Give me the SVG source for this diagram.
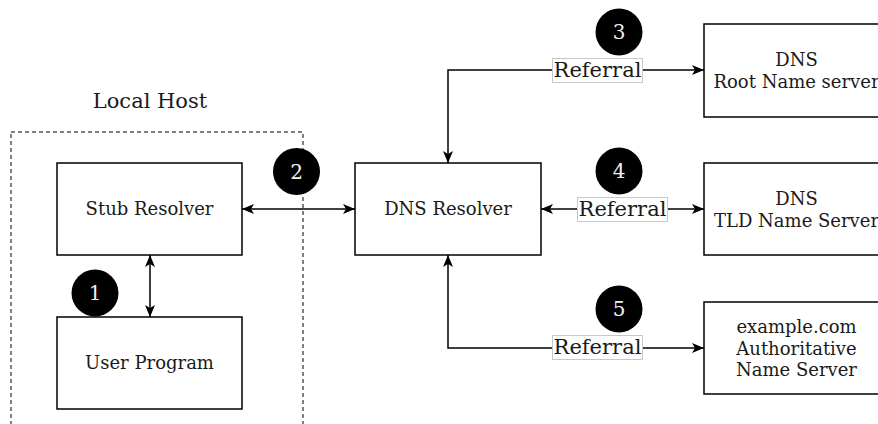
<svg xmlns="http://www.w3.org/2000/svg" width="878" height="424" viewBox="0 0 878 424">
  <defs>
    <style>
      .box { fill: #ffffff; stroke: #000000; stroke-width: 1.5; }
      .txt { font-family: "DejaVu Serif", "Liberation Serif", serif; font-size: 18px; fill: #1a1a1a; text-anchor: middle; }
      .big { font-size: 21px; }
      .num { font-family: "DejaVu Serif", "Liberation Serif", serif; font-size: 20px; fill: #f0f0f0; text-anchor: middle; }
      .badge { fill: #000000; }
      .wire { fill: none; stroke: #000000; stroke-width: 1.5; }
      .tag { fill: #ffffff; stroke: #c8c8c8; stroke-width: 1; }
    </style>
    <marker id="arrow" viewBox="0 0 12 10" refX="12" refY="5" markerWidth="12" markerHeight="10" markerUnits="userSpaceOnUse" orient="auto-start-reverse">
      <path d="M0,0 L12,5 L0,10 L3,5 Z" fill="#000000"/>
    </marker>
  </defs>

  <!-- local host boundary -->
  <g id="local-host">
    <rect x="11" y="132" width="292" height="320" fill="none" stroke="#000000" stroke-width="1" stroke-dasharray="4 3"/>
    <text class="txt big" x="150" y="108">Local Host</text>
  </g>

  <!-- connectors -->
  <g id="connectors">
    <line class="wire" x1="150" y1="255" x2="150" y2="317" marker-start="url(#arrow)" marker-end="url(#arrow)"/>
    <line class="wire" x1="242" y1="209" x2="355" y2="209" marker-start="url(#arrow)" marker-end="url(#arrow)"/>
    <path class="wire" d="M600,70 H448 V163" marker-end="url(#arrow)"/>
    <line class="wire" x1="541" y1="209" x2="704" y2="209" marker-start="url(#arrow)" marker-end="url(#arrow)"/>
    <path class="wire" d="M600,348 H448 V255" marker-end="url(#arrow)"/>
    <path class="wire" d="M600,70 H704" marker-end="url(#arrow)"/>
    <path class="wire" d="M600,348 H704" marker-end="url(#arrow)"/>
    <g id="label-3">
      <rect class="tag" x="552.5" y="58.5" width="90" height="24"/>
      <text class="txt big" x="597.5" y="77">Referral</text>
    </g>
    <g id="label-4">
      <rect class="tag" x="577.5" y="197.5" width="90" height="24"/>
      <text class="txt big" x="622.5" y="216">Referral</text>
    </g>
    <g id="label-5">
      <rect class="tag" x="552.5" y="335.5" width="90" height="24"/>
      <text class="txt big" x="597.5" y="354">Referral</text>
    </g>
  </g>

  <g id="stub-resolver">
    <rect class="box" x="57" y="163" width="185" height="92"/>
    <text class="txt" x="149.5" y="215">Stub Resolver</text>
  </g>
  <g id="user-program">
    <rect class="box" x="57" y="317" width="185" height="92"/>
    <text class="txt" x="149.5" y="369">User Program</text>
  </g>
  <g id="dns-resolver">
    <rect class="box" x="355" y="163" width="186" height="92"/>
    <text class="txt" x="448" y="215">DNS Resolver</text>
  </g>
  <g id="root-server">
    <rect class="box" x="704" y="24" width="185" height="93"/>
    <text class="txt" x="796.5" y="66">DNS</text>
    <text class="txt" x="796.5" y="88">Root Name server</text>
  </g>
  <g id="tld-server">
    <rect class="box" x="704" y="163" width="185" height="92"/>
    <text class="txt" x="796.5" y="205">DNS</text>
    <text class="txt" x="796.5" y="227">TLD Name Server</text>
  </g>
  <g id="auth-server">
    <rect class="box" x="704" y="302" width="185" height="92"/>
    <text class="txt" x="796.5" y="333">example.com</text>
    <text class="txt" x="796.5" y="355">Authoritative</text>
    <text class="txt" x="796.5" y="376">Name Server</text>
  </g>

  <!-- step badges -->
  <g id="step-1"><circle class="badge" cx="95" cy="293" r="23.5"/><text class="num" x="95" y="300">1</text></g>
  <g id="step-2"><circle class="badge" cx="296.5" cy="171.5" r="23.5"/><text class="num" x="296.5" y="178.5">2</text></g>
  <g id="step-3"><circle class="badge" cx="619" cy="32" r="23.5"/><text class="num" x="619" y="39">3</text></g>
  <g id="step-4"><circle class="badge" cx="619" cy="171" r="23.5"/><text class="num" x="619" y="178">4</text></g>
  <g id="step-5"><circle class="badge" cx="619" cy="309" r="23.5"/><text class="num" x="619" y="316">5</text></g>
</svg>
